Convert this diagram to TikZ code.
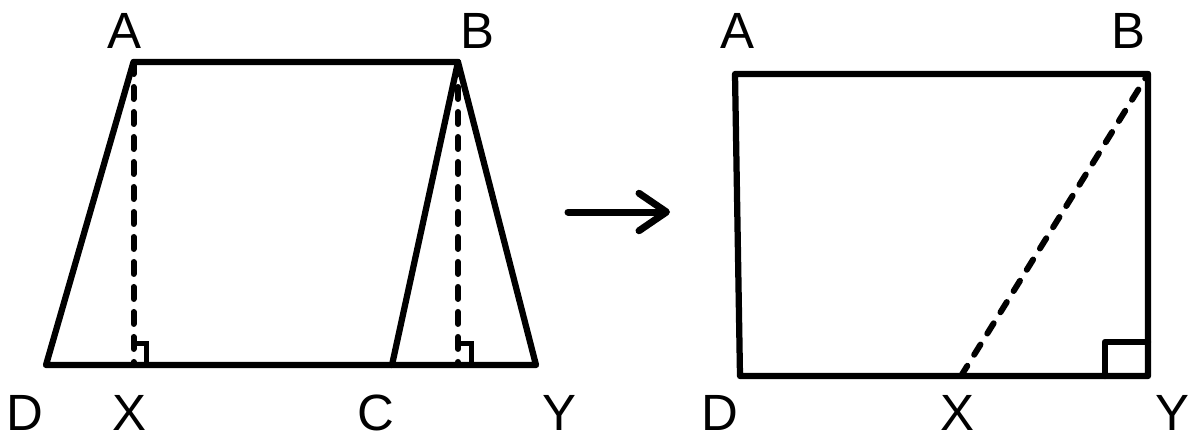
\documentclass[tikz,border=0pt]{standalone}
\usepackage{fontspec}
\setmainfont{Liberation Sans}
\usepackage{tikz}
\usetikzlibrary{arrows.meta, calc}

\tikzset{
    edgeline/.style={line width=0.125cm, line join=round, line cap=round},
    heightline/.style={line width=0.12cm, line cap=round, dash pattern=on 0.24cm off 0.26cm},
    marker/.style={line width=0.1cm},
    vlabel/.style={inner sep=0pt, font=\fontsize{29}{33}\selectfont},
}

\begin{document}
\begin{tikzpicture}[x=0.02cm, y=-0.02cm]
    \useasboundingbox (0,0) rectangle (1200,444);

    % trapezium
    \coordinate (A) at (133.5,62);
    \coordinate (B) at (458,62);
    \coordinate (D) at (46,365);
    \coordinate (C) at (392,365);
    \coordinate (Y) at (536,365);
    \coordinate (X) at (133.5,365);
    \coordinate (Z) at (458,365);

    \draw[edgeline] (D) -- (A) -- (B) -- (Y) -- cycle;
    \draw[edgeline] (B) -- (C);
    \draw[heightline] (A) -- (X);
    \draw[heightline] (B) -- (Z);
    \draw[marker] ($(X)+(0,-22)$) -- ++(13,0) -- ++(0,22);
    \draw[marker] ($(Z)+(0,-22)$) -- ++(13,0) -- ++(0,22);

    \node[vlabel] (lA) at (124,31) {A};
    \node[vlabel] (lB) at (477,31) {B};
    \node[vlabel] (lD) at (25,413) {D};
    \node[vlabel] (lX) at (129,413) {X};
    \node[vlabel] (lC) at (376,413) {C};
    \node[vlabel] (lY) at (559,413) {Y};

    % arrow
    \coordinate (s) at (568,212);
    \coordinate (t) at (670,212);
    \draw[line width=0.14cm, line cap=round, -{Straight Barb[length=0.55cm, width=0.75cm, round]}] (s) -- (t);

    % rectangle
    \coordinate (A2) at (735,74);
    \coordinate (B2) at (1148,74);
    \coordinate (Y2) at (1148,376);
    \coordinate (D2) at (740,376);
    \coordinate (X2) at (961,376);

    \draw[edgeline] (A2) -- (B2) -- (Y2) -- (D2) -- cycle;
    \draw[heightline] (X2) -- (B2);
    \draw[edgeline] ($(Y2)+(-43,0)$) -- ++(0,-34) -- ++(43,0);

    \node[vlabel] (rA) at (737,31) {A};
    \node[vlabel] (rB) at (1128,31) {B};
    \node[vlabel] (rD) at (720,413) {D};
    \node[vlabel] (rX) at (957,413) {X};
    \node[vlabel] (rY) at (1172,413) {Y};
\end{tikzpicture}
\end{document}
